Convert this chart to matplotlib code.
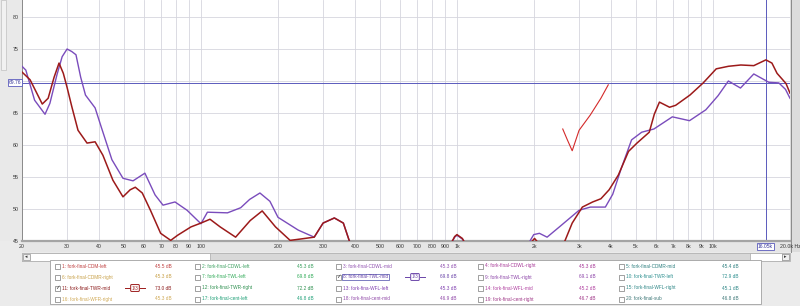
import numpy as np
import matplotlib
matplotlib.use("Agg")
import matplotlib.pyplot as plt
from matplotlib.patches import Rectangle
from matplotlib.ticker import NullLocator

nan = float('nan')

# ---------------- data ----------------
twl_mid_hz = [20, 20.7, 22.4, 24.6, 25.7, 27.4, 28.7, 30.0, 31.3, 32.5, 33.9, 35.4, 38.6, 40.8,
              44.9, 49.6, 54.3, 60.4, 66.2, 71.1, 79.2, 88.3, 100, 106, 127, 143, 155, 170, 186,
              200, 240, 277, 300, 332, 360, 380, 395,
              nan, 945, 980, 1000, 1050, 1080,
              nan, 1896, 1995, 2100, 2250, 2530, 3000, 3320, 3800, 4060, 4380, 4810, 5270, 5880,
              6940, 8100, 9380, 10470, 11490, 12810, 14440, 16530, 18090, 19200, 20000]
twl_mid_db = [72.3, 71.7, 67.0, 64.8, 66.5, 71.0, 73.8, 75.0, 74.6, 74.1, 70.6, 67.8, 65.8, 62.8,
              57.7, 54.8, 54.4, 55.6, 52.2, 50.6, 51.1, 49.8, 47.7, 49.5, 49.4, 50.2, 51.5, 52.5, 51.2,
              48.7, 46.7, 45.6, 47.8, 48.6, 47.8, 45.0, 44.0,
              nan, 44.5, 45.6, 45.9, 45.3, 44.5,
              nan, 44.5, 46.0, 46.2, 45.6, 47.3, 49.8, 50.3, 50.3, 52.3, 56.3, 60.8, 62.0, 62.5,
              64.4, 63.8, 65.5, 67.7, 70.0, 68.9, 71.1, 69.8, 69.7, 68.7, 67.3]

twr_mid_hz = [20, 21.5, 24.0, 25.3, 26.7, 27.9, 29.0, 30, 31.3, 33.1, 35.9, 38.6, 41.4, 45.3,
              49.6, 52.9, 55.4, 59.0, 63.5, 69.6, 76.2, 81.1, 91.4, 100, 108.5, 118.9, 136.6,
              155.8, 173.5, 195.6, 223, 244, 277, 300, 332, 360, 380, 395,
              nan, 945, 980, 1000, 1050, 1080,
              nan, 1920, 2010, 2100,
              nan, 2570, 2640, 2820, 3090, 3390, 3650, 3930, 4270, 4680, 5050, 5640, 5900, 6180,
              6770, 7150, 8130, 9160, 10300, 11500, 12850, 14440, 16100, 17000, 17800, 19300, 20000]
twr_mid_db = [71.4, 70.2, 66.4, 67.3, 70.6, 72.8, 71.2, 69.0, 66.0, 62.3, 60.3, 60.5, 58.4, 54.5,
              51.9, 53.0, 53.4, 52.5, 49.8, 46.2, 45.1, 45.9, 47.2, 47.8, 48.4, 47.2, 45.6,
              48.2, 49.7, 47.2, 45.1, 45.3, 45.6, 47.8, 48.6, 47.8, 45.0, 44.0,
              nan, 44.5, 45.7, 46.0, 45.4, 44.5,
              nan, 44.5, 45.4, 44.5,
              nan, 44.5, 45.0, 47.8, 50.3, 51.1, 51.6, 53.0, 55.3, 59.0, 60.3, 62.0, 64.8, 66.7,
              65.9, 66.2, 67.8, 69.7, 71.9, 72.3, 72.5, 72.4, 73.3, 72.8, 71.2, 69.6, 68.1]

frag_hz = [2590, 2700, 2820, 3000, 3320, 3650, 3900]
frag_db = [62.5, 60.8, 59.1, 62.3, 64.7, 67.3, 69.4]

cursor_db = 69.76
cursor_hz = 16050

x_ticks = [20, 30, 40, 50, 60, 70, 80, 90, 100, 200, 300, 400, 500, 600, 700, 800, 900,
           1000, 2000, 3000, 4000, 5000, 6000, 7000, 8000, 9000, 10000, 20000]
x_tick_labels = ["20", "30", "40", "50", "60", "70", "80", "90", "100", "200", "300", "400",
                 "500", "600", "700", "800", "900", "1k", "2k", "3k", "4k", "5k", "6k", "7k",
                 "8k", "9k", "10k", "20.0k Hz"]
y_ticks = [45, 50, 55, 60, 65, 70, 75, 80]
y_tick_labels = ["45", "50", "55", "60", "65", "", "75", "80"]

legend_names = [
    ["1: fork-final-CDM-left", "6: fork-final-CDMR-right", "11: fork-final-TWR-mid", "16: fork-final-WFR-right"],
    ["2: fork-final-CDWL-left", "7: fork-final-TWL-left", "12: fork-final-TWR-right", "17: fork-final-cent-left"],
    ["3: fork-final-CDWL-mid", "8: fork-final-TWL-mid", "13: fork-fina-WFL-left", "18: fork-final-cent-mid"],
    ["4: fork-final-CDWL-right", "9: fork-final-TWL-right", "14: fork-final-WFL-mid", "19: fork-final-cent-right"],
    ["5: fork-final-CDMR-mid", "10: fork-final-TWR-left", "15: fork-final-WFL-right", "20: fork-final-sub"],
]
legend_values = [
    ["45.5 dB", "45.3 dB", "73.0 dB", "45.3 dB"],
    ["45.3 dB", "69.8 dB", "72.2 dB", "46.8 dB"],
    ["45.3 dB", "69.8 dB", "45.3 dB", "46.9 dB"],
    ["45.3 dB", "69.1 dB", "45.2 dB", "46.7 dB"],
    ["45.4 dB", "72.9 dB", "45.1 dB", "46.8 dB"],
]
legend_colors = [
    ["#c04040", "#c8a048", "#8c1c1c", "#d0aa58"],
    ["#3ca060", "#30aa58", "#2f9050", "#20a078"],
    ["#9050b0", "#6a44a8", "#8040b0", "#9048a8"],
    ["#a83898", "#8c44a8", "#b040a0", "#a03888"],
    ["#2f8080", "#2f9090", "#308888", "#3f7878"],
]
legend_checked = [(0, 2), (2, 1)]

# ---------------- colors ----------------
c_purple = "#7a4cbc"
c_red = "#9c1a1a"
c_frag = "#d42a2a"
c_cursor = "#5a5abc"
c_grid = "#d6d6de"

W, H = 800, 306
fig = plt.figure(figsize=(W / 100, H / 100), dpi=100)
fig.patch.set_facecolor("#ebebeb")
FONT = "Liberation Sans"

# background chrome in pixel coordinates
bg = fig.add_axes([0, 0, 1, 1], zorder=-5)
bg.set_xlim(0, W)
bg.set_ylim(H, 0)
bg.axis("off")
bg.add_patch(Rectangle((0, 0), 22, 241, fc="#e9e9e9", ec="none"))
bg.add_patch(Rectangle((1, 0), 5, 70, fc="#f1f1f1", ec="#c0c0c0", lw=0.5))
bg.add_patch(Rectangle((22, 241), 768, 11, fc="#e6e6e6", ec="none"))
bg.add_patch(Rectangle((790, 0), 10, 252, fc="#dcdcdc", ec="none"))
bg.plot([791, 791], [0, 252], color="#8a8a8a", lw=0.7)
# scrollbar
bg.add_patch(Rectangle((22, 253), 768, 8, fc="#d8d8d8", ec="#a8a8a8", lw=0.5))
bg.add_patch(Rectangle((22, 253), 188, 8, fc="#ffffff", ec="#a8a8a8", lw=0.5))
bg.add_patch(Rectangle((750, 253), 32, 8, fc="#ffffff", ec="#a8a8a8", lw=0.5))
bg.add_patch(Rectangle((23, 254), 7, 6, fc="#f0f0f0", ec="#909090", lw=0.5))
bg.add_patch(Rectangle((782, 254), 7, 6, fc="#f0f0f0", ec="#909090", lw=0.5))
bg.text(26.5, 257, "◂", fontsize=3.5, ha="center", va="center", color="#333333")
bg.text(785.5, 257, "▸", fontsize=3.5, ha="center", va="center", color="#333333")
# legend panel
bg.add_patch(Rectangle((50, 260), 711, 44, fc="white", ec="#a0a0a0", lw=0.6))

row_y = [266, 277, 288, 299]
col_box_x = [57, 197, 338, 480, 621]
col_val_x = [163, 305, 448, 587, 730]
for ci in range(5):
    for ri in range(4):
        y = row_y[ri]
        bx = col_box_x[ci]
        col = legend_colors[ci][ri]
        bg.add_patch(Rectangle((bx - 2.5, y - 2.5), 5, 5, fc="white", ec="#7a7a7a", lw=0.5))
        if (ci, ri) in legend_checked:
            bg.text(bx, y, "✓", fontsize=4, ha="center", va="center", color="#333333",
                    family="DejaVu Sans")
        kw = {}
        if (ci, ri) == (2, 1):
            kw["bbox"] = dict(boxstyle="square,pad=0.15", fc="white", ec="#4848a8", lw=0.5)
        bg.text(bx + 5, y, legend_names[ci][ri], fontsize=3.4, ha="left", va="center",
                color=col, family=FONT, **kw)
        bg.text(col_val_x[ci], y, legend_values[ci][ri], fontsize=3.4, ha="center",
                va="center", color=col, family=FONT)

# smoothing badges
for (bx, by, bc) in [(135, 288, c_red), (415, 277, "#6a44a8")]:
    bg.plot([bx - 10, bx - 5], [by, by], color=bc, lw=0.7)
    bg.plot([bx + 5, bx + 10], [by, by], color=bc, lw=0.7)
    bg.text(bx, by, "1/3", fontsize=3.4, ha="center", va="center", color=bc, family=FONT,
            bbox=dict(boxstyle="round,pad=0.2", fc="white", ec=bc, lw=0.7))

# ---------------- main plot ----------------
ax = fig.add_axes([22 / W, (H - 241) / H, 768 / W, 241 / H])
ax.set_facecolor("white")
ax.set_xscale("log")
ax.set_xlim(20, 20000)
ax.set_ylim(45, 45 + 241 / 6.4)
ax.set_xticks(x_ticks)
ax.set_xticklabels(x_tick_labels, fontsize=3.8, family=FONT, color="#333333")
ax.xaxis.set_minor_locator(NullLocator())
ax.set_yticks(y_ticks)
ax.set_yticklabels(y_tick_labels, fontsize=3.8, family=FONT, color="#333333")
ax.tick_params(length=0, pad=2.2)
ax.grid(True, color=c_grid, lw=0.6)
ax.set_axisbelow(True)
for s in ["top", "right"]:
    ax.spines[s].set_visible(False)
ax.spines["left"].set_color("#8a8a8a")
ax.spines["left"].set_linewidth(0.7)
ax.spines["bottom"].set_color("#a4a4a4")
ax.spines["bottom"].set_linewidth(1.6)

ax.axhline(cursor_db, color=c_cursor, lw=0.7, zorder=2)
ax.axvline(cursor_hz, color=c_cursor, lw=0.7, zorder=2)

ax.plot(twl_mid_hz, twl_mid_db, color=c_purple, lw=1.0, zorder=3, clip_on=True)
ax.plot(twr_mid_hz, twr_mid_db, color=c_red, lw=1.1, zorder=4, clip_on=True)
ax.plot(frag_hz, frag_db, color=c_frag, lw=0.8, zorder=4, clip_on=True)

ax.text(-0.0015, cursor_db, "%.2f" % cursor_db, transform=ax.get_yaxis_transform(),
        ha="right", va="center", fontsize=3.6, family=FONT, color="#3a3a9a",
        bbox=dict(boxstyle="square,pad=0.15", fc="white", ec="#5a5abc", lw=0.6), clip_on=False)
ax.text(cursor_hz, -0.012, "%.2fk" % (cursor_hz / 1000), transform=ax.get_xaxis_transform(),
        ha="center", va="top", fontsize=3.6, family=FONT, color="#3a3a9a",
        bbox=dict(boxstyle="square,pad=0.15", fc="white", ec="#5a5abc", lw=0.6), clip_on=False)

fig.savefig("out.png", dpi=100, facecolor=fig.get_facecolor())
